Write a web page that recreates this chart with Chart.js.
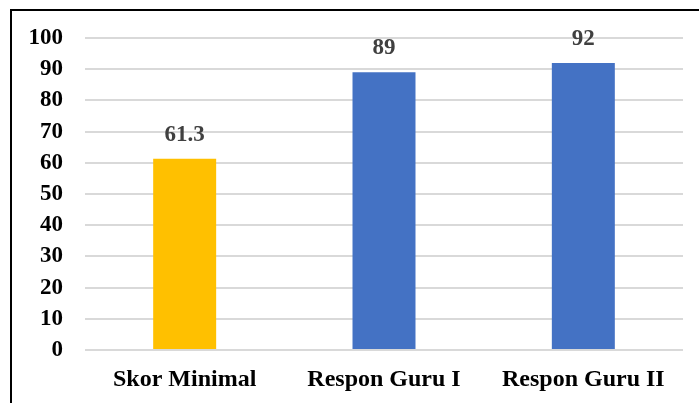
<!DOCTYPE html>
<html>
<head>
<meta charset="utf-8">
<script src="https://cdn.jsdelivr.net/npm/chart.js@4.4.0/dist/chart.umd.min.js"></script>
<style>
  html, body { margin: 0; padding: 0; background: #fff; }
  #wrap { position: relative; width: 699px; height: 403px; }
  #frame { position: absolute; left: 10px; top: 9px; right: 0; bottom: 0;
           border-left: 2px solid #000; border-top: 2px solid #000; pointer-events: none; }
  canvas { position: absolute; left: 0; top: 0; }
</style>
</head>
<body>
<div id="wrap">
  <canvas id="chart" width="699" height="403"></canvas>
  <div id="frame"></div>
</div>
<script>
// --- Data ---
const categories = ['Skor Minimal', 'Respon Guru I', 'Respon Guru II'];
const scores = [61.3, 89, 92];
const valueLabels = ['61.3', '89', '92'];
const barColors = ['#FFC000', '#4472C4', '#4472C4'];

const FONT = '"Liberation Serif", "Times New Roman", serif';

// draws the value above each bar
const valueLabelPlugin = {
    id: 'valueLabels',
    afterDatasetsDraw(chart) {
        const ctx = chart.ctx;
        const meta = chart.getDatasetMeta(0);
        ctx.save();
        ctx.font = 'bold 23px ' + FONT;
        ctx.fillStyle = '#404040';
        ctx.textAlign = 'center';
        ctx.textBaseline = 'middle';
        meta.data.forEach((bar, i) => {
            ctx.fillText(valueLabels[i], bar.x, bar.y - 24);
        });
        ctx.restore();
    }
};

const ctx = document.getElementById('chart').getContext('2d');
new Chart(ctx, {
    type: 'bar',
    data: {
        labels: categories,
        datasets: [{
            data: scores,
            backgroundColor: barColors,
            categoryPercentage: 1,
            barPercentage: 0.316
        }]
    },
    options: {
        responsive: false,
        animation: false,
        layout: { padding: { top: 38, right: 16, left: 0, bottom: 0 } },
        plugins: {
            legend: { display: false },
            tooltip: { enabled: false }
        },
        scales: {
            y: {
                min: 0,
                max: 100,
                afterFit(scale) { scale.width = 85; },
                border: { display: false },
                grid: { color: '#D9D9D9', lineWidth: 2, drawTicks: false },
                ticks: {
                    stepSize: 10,
                    padding: 22,
                    color: '#000',
                    font: { family: FONT, size: 23, weight: 'bold' }
                }
            },
            x: {
                afterFit(scale) { scale.height = 53; },
                border: { display: false },
                grid: { display: false, drawTicks: false },
                ticks: {
                    padding: 15,
                    color: '#000',
                    maxRotation: 0,
                    font: { family: FONT, size: 24, weight: 'bold' }
                }
            }
        }
    },
    plugins: [valueLabelPlugin]
});
</script>
</body>
</html>
